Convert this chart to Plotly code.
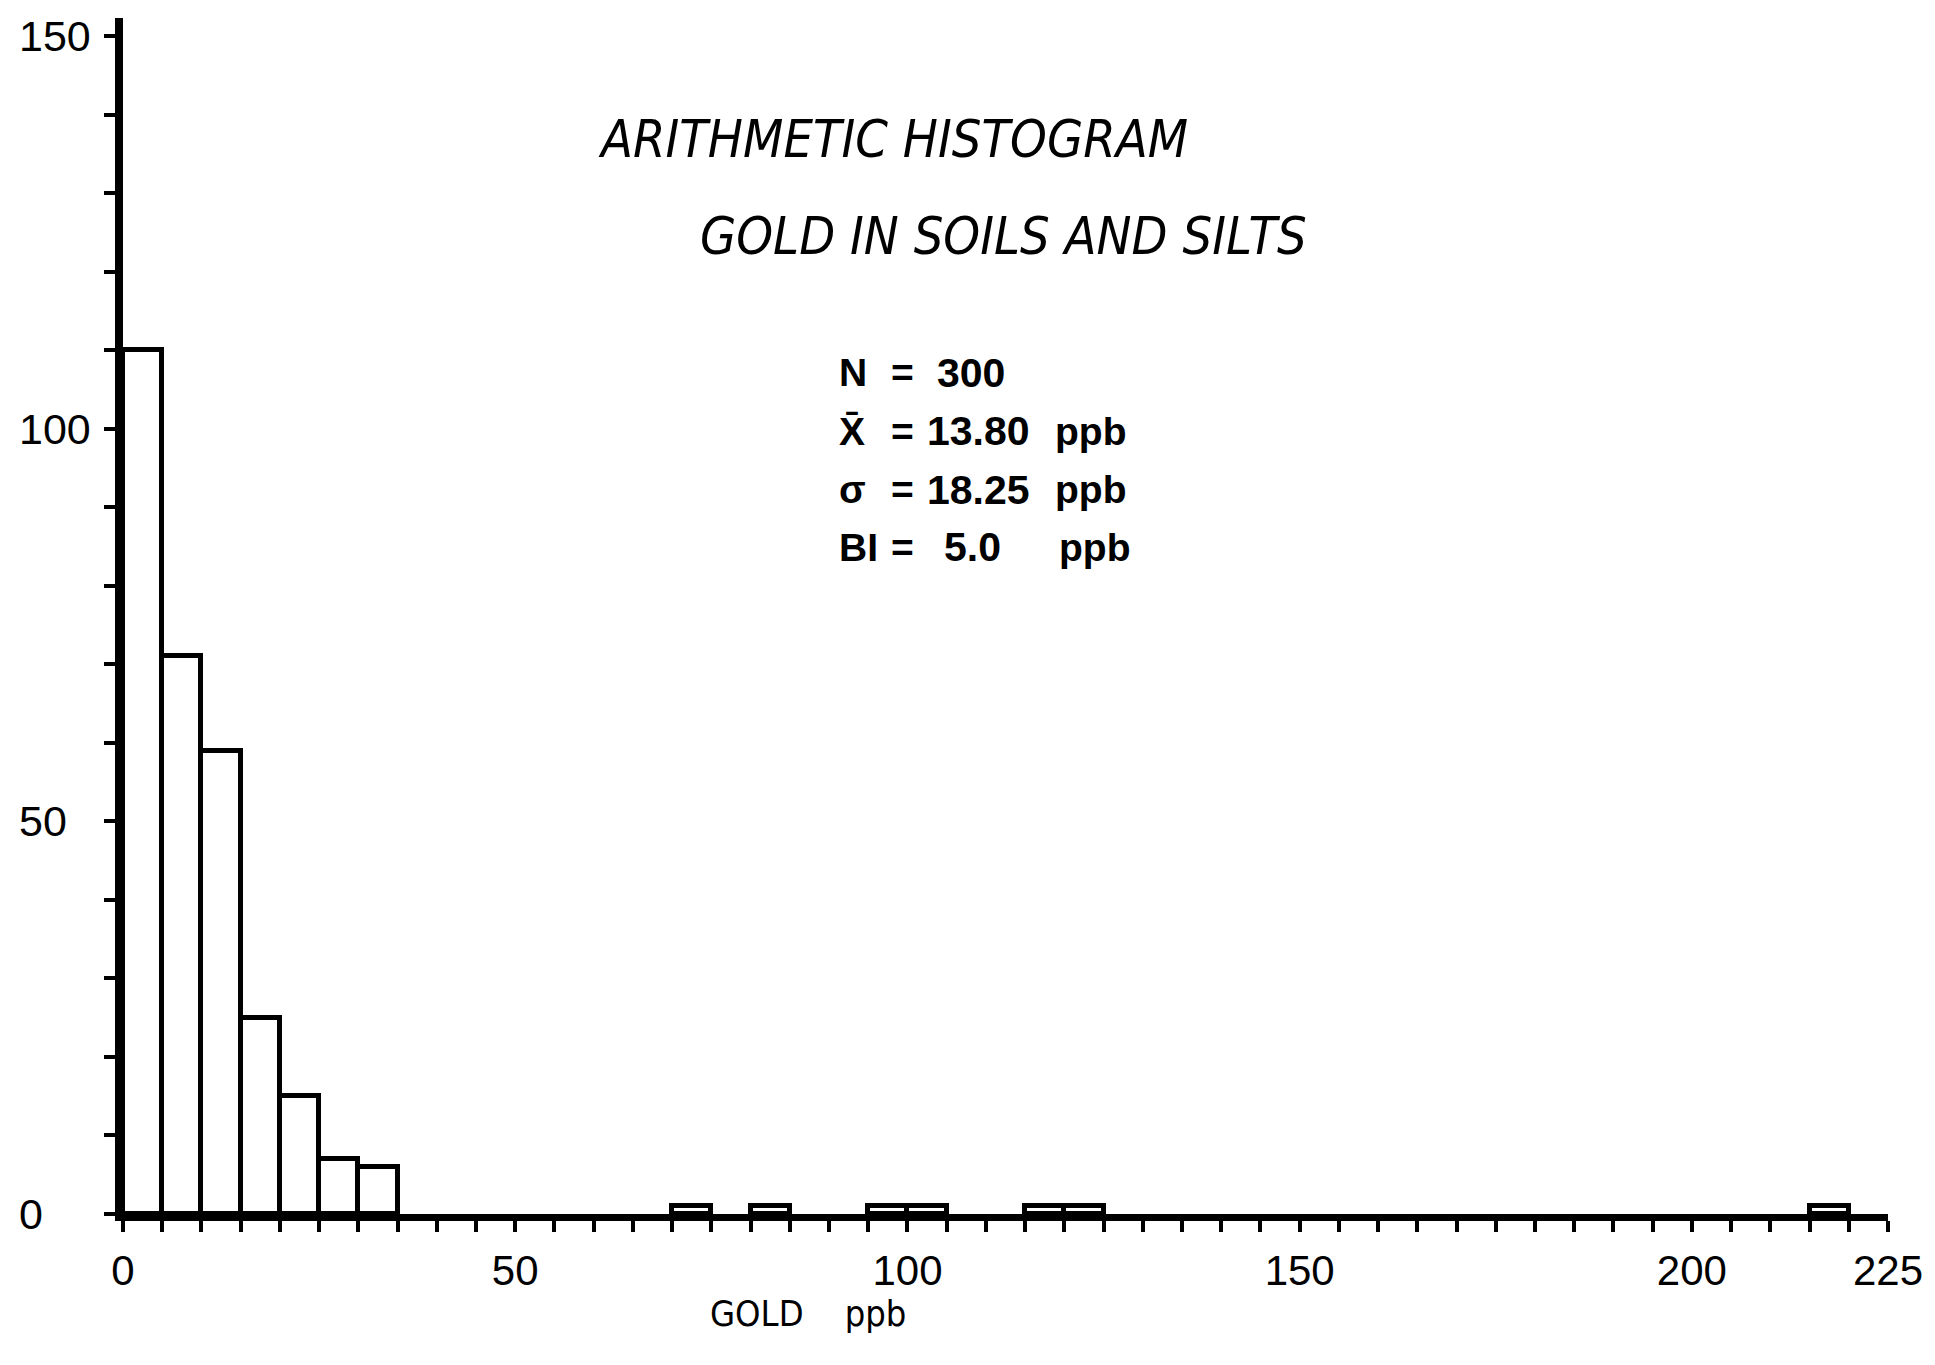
import plotly.graph_objects as go

# ---- data ----
bin_left = [0, 5, 10, 15, 20, 25, 30, 70, 80, 95, 100, 115, 120, 215]
counts = [110, 71, 59, 25, 15, 7, 6, 1, 1, 1, 1, 1, 1, 1]
bin_width = 5
x_tick_vals = [0, 50, 100, 150, 200, 225]
x_tick_text = ["0", "50", "100", "150", "200", "225"]
y_label_vals = [0, 50, 100, 150]
y_label_text = ["0", "50", "100", "150"]
title_lines = ["ARITHMETIC HISTOGRAM", "GOLD IN SOILS AND SILTS"]
stat_symbols = ["N", "X\u0304", "\u03c3", "BI"]
stat_values = ["300", "13.80", "18.25", "5.0"]
stat_units = ["", "ppb", "ppb", "ppb"]
x_title = "GOLD\u00a0\u00a0\u00a0\u00a0ppb"

centers = [b + bin_width / 2 for b in bin_left]

fig = go.Figure()
fig.add_trace(go.Bar(
    x=centers, y=counts, width=[bin_width] * len(counts),
    marker=dict(color="white", line=dict(color="black", width=5)),
    showlegend=False, hoverinfo="skip",
))

W, H = 1935, 1365
ml, mr, mt, mb = 115, 55, 10, 159
plot_h = H - mt - mb

num_font = "Liberation Sans, Arial, sans-serif"
narrow_font = "Liberation Sans Narrow, DejaVu Sans Condensed, Arial Narrow, sans-serif"

fig.update_layout(
    width=W, height=H,
    margin=dict(l=ml, r=mr, t=mt, b=mb),
    paper_bgcolor="white", plot_bgcolor="white",
    bargap=0,
    xaxis=dict(
        range=[0, 225], showgrid=False, zeroline=False, automargin=False,
        showline=True, linecolor="black", linewidth=7,
        tickmode="array", tickvals=x_tick_vals, ticktext=x_tick_text,
        ticks="outside", ticklen=11, tickwidth=3.5, tickcolor="black",
        minor=dict(dtick=5, tick0=0, ticks="outside", ticklen=11, tickwidth=3.5, tickcolor="black"),
        tickfont=dict(family=num_font, size=42, color="black"),
        ticklabelstandoff=3,
    ),
    yaxis=dict(
        range=[0, 152.3], showgrid=False, zeroline=False, automargin=False,
        showline=True, linecolor="black", linewidth=8,
        dtick=10, tick0=0, ticks="outside", ticklen=11, tickwidth=3.5, tickcolor="black",
        showticklabels=False,
    ),
)

ann = []
for v, t in zip(y_label_vals, y_label_text):
    ann.append(dict(x=-0.0602, xref="paper", y=v, yref="y", text=t, showarrow=False,
                    xanchor="left", yanchor="middle",
                    font=dict(family=num_font, size=43, color="black")))

ann.append(dict(x=98.2, y=136.9, xref="x", yref="y", text="<i>" + title_lines[0] + "</i>",
                showarrow=False, xanchor="center", yanchor="middle",
                font=dict(family=narrow_font, size=52, color="black")))
ann.append(dict(x=112.2, y=124.5, xref="x", yref="y", text="<i>" + title_lines[1] + "</i>",
                showarrow=False, xanchor="center", yanchor="middle",
                font=dict(family=narrow_font, size=52, color="black")))

stats_y = [107.1, 99.7, 92.2, 84.9]
sym_x = 91.0
eq_x = 97.6
val_x = [103.5, 102.3, 102.3, 104.4]
unit_x = [118.6, 118.6, 118.6, 119.1]
sfont = dict(family=num_font, size=39, color="black")
vfont = dict(family=num_font, size=41, color="black")
for i, yy in enumerate(stats_y):
    ann.append(dict(x=sym_x, y=yy, xref="x", yref="y", text="<b>" + stat_symbols[i] + "</b>",
                    showarrow=False, xanchor="left", yanchor="middle", font=sfont))
    ann.append(dict(x=eq_x, y=yy, xref="x", yref="y", text="<b>=</b>",
                    showarrow=False, xanchor="left", yanchor="middle", font=sfont))
    ann.append(dict(x=val_x[i], y=yy, xref="x", yref="y", text="<b>" + stat_values[i] + "</b>",
                    showarrow=False, xanchor="left", yanchor="middle", font=vfont))
    if stat_units[i]:
        ann.append(dict(x=unit_x[i], y=yy, xref="x", yref="y", text="<b>" + stat_units[i] + "</b>",
                        showarrow=False, xanchor="left", yanchor="middle", font=sfont))

ann.append(dict(x=74.6, y=-99 / plot_h, xref="x", yref="paper", text=x_title, showarrow=False,
                xanchor="left", yanchor="middle",
                font=dict(family=narrow_font, size=36, color="black")))

fig.update_layout(annotations=ann)
fig.write_html("out.html")
